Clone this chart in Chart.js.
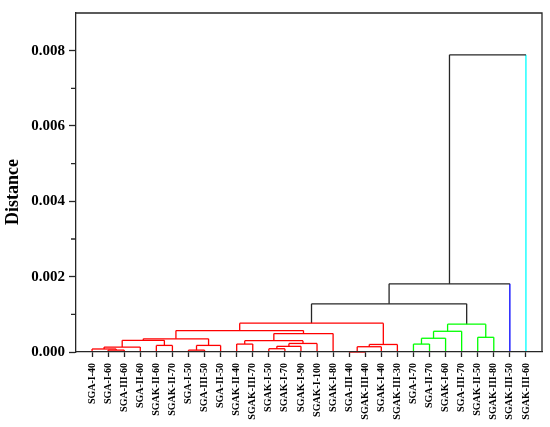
<!DOCTYPE html>
<html>
<head>
<meta charset="utf-8">
<script src="https://cdn.jsdelivr.net/npm/chart.js@4.4.1/dist/chart.umd.min.js"></script>
<style>
  html, body { margin: 0; padding: 0; background: #fff; }
  #wrap { width: 550px; height: 427px; }
</style>
</head>
<body>
<div id="wrap"><canvas id="chart" width="550" height="427"></canvas></div>
<script>
// leaves in dendrogram order
const leafLabels = [
  'SGA-I-40', 'SGA-I-60', 'SGA-III-60', 'SGA-II-60', 'SGAK-II-60', 'SGAK-II-70',
  'SGA-I-50', 'SGA-III-50', 'SGA-II-50', 'SGAK-II-40', 'SGAK-III-70', 'SGAK-I-50',
  'SGAK-I-70', 'SGAK-I-90', 'SGAK-I-100', 'SGAK-I-80', 'SGA-III-40', 'SGAK-III-40',
  'SGAK-I-40', 'SGAK-III-30', 'SGA-I-70', 'SGA-II-70', 'SGAK-I-60', 'SGA-III-70',
  'SGAK-II-50', 'SGAK-III-80', 'SGAK-III-50', 'SGAK-III-60',
];

// linkage: merge k joins mergeLeft[k] and mergeRight[k] into node 28 + k
const mergeLeft = [16, 6, 1, 0, 11, 28, 31, 32, 29, 4, 9, 20, 33, 35, 38, 34, 43, 39, 24, 42, 45, 44, 48, 49, 51, 52, 53];
const mergeRight = [17, 7, 2, 30, 12, 18, 3, 13, 8, 5, 10, 21, 19, 14, 41, 37, 36, 22, 25, 15, 23, 47, 46, 40, 50, 26, 27];
const mergeHeight = [
  0, 0.00005, 0.00005, 0.00008, 0.000087, 0.00014, 0.00013, 0.00015, 0.000175,
  0.000175, 0.00021, 0.00021, 0.0002, 0.000227, 0.0003, 0.00031, 0.00035, 0.000365,
  0.00039, 0.00049, 0.00055, 0.00057, 0.00074, 0.000765, 0.00128, 0.00181, 0.00789,
];

const yMajorTicks = [0, 0.002, 0.004, 0.006, 0.008];
const yMinorTicks = [0.001, 0.003, 0.005, 0.007];
const colorThreshold = 0.001;

const clusterPalette = ['#ff0000', '#00ff00', '#0000ff', '#00ffff'];
const linkColor = '#262626';
const axisColor = '#262626';
const serif = "'Liberation Serif', 'Times New Roman', serif";

const nLeaves = leafLabels.length;
const nodeX = leafLabels.map((_, i) => i);
const nodeH = leafLabels.map(() => 0);
mergeLeft.forEach((a, k) => {
  nodeX.push((nodeX[a] + nodeX[mergeRight[k]]) / 2);
  nodeH.push(mergeHeight[k]);
});

// colour clusters below the threshold, left to right
const nodeColor = [];
let nextColor = 0;
function paint(id, c) {
  nodeColor[id] = c;
  if (id >= nLeaves) {
    paint(mergeLeft[id - nLeaves], c);
    paint(mergeRight[id - nLeaves], c);
  }
}
function assign(id) {
  if (nodeH[id] < colorThreshold) {
    paint(id, clusterPalette[nextColor++ % clusterPalette.length]);
    return;
  }
  nodeColor[id] = linkColor;
  assign(mergeLeft[id - nLeaves]);
  assign(mergeRight[id - nLeaves]);
}
assign(nodeX.length - 1);

const segments = [];
mergeLeft.forEach((a, k) => {
  const b = mergeRight[k];
  const h = mergeHeight[k];
  const c = nodeColor[nLeaves + k];
  const legColor = child => (child < nLeaves ? nodeColor[child] : c);
  segments.push({ pts: [[nodeX[a], nodeH[a]], [nodeX[a], h]], color: legColor(a) });
  segments.push({ pts: [[nodeX[a], h], [nodeX[b], h]], color: c });
  segments.push({ pts: [[nodeX[b], h], [nodeX[b], nodeH[b]]], color: legColor(b) });
});

const datasets = segments.map(s => ({
  data: s.pts.map(([x, y]) => ({ x, y })),
  borderColor: s.color,
  borderWidth: 1.3,
  pointRadius: 0,
  showLine: true,
  fill: false,
  clip: false,
}));

// frame on top/right, minor y ticks and the rotated axis title
const framePlugin = {
  id: 'frame',
  afterDraw(chart) {
    const { ctx, chartArea: a, scales } = chart;
    ctx.save();
    ctx.strokeStyle = axisColor;
    ctx.lineWidth = 1.3;
    ctx.beginPath();
    ctx.moveTo(a.left, a.top);
    ctx.lineTo(a.right, a.top);
    ctx.lineTo(a.right, a.bottom);
    yMinorTicks.forEach(v => {
      const py = scales.y.getPixelForValue(v);
      ctx.moveTo(a.left - 5, py);
      ctx.lineTo(a.left, py);
    });
    ctx.stroke();

    ctx.translate(13, 192);
    ctx.rotate(-Math.PI / 2);
    ctx.fillStyle = '#000';
    ctx.font = `bold 18px ${serif}`;
    ctx.textAlign = 'center';
    ctx.textBaseline = 'middle';
    ctx.fillText('Distance', 0, 0);
    ctx.restore();
  },
};

new Chart(document.getElementById('chart'), {
  type: 'scatter',
  data: { datasets },
  options: {
    responsive: false,
    animation: false,
    layout: { padding: { top: 7, right: 8, left: 0, bottom: 0 } },
    plugins: { legend: { display: false }, tooltip: { enabled: false } },
    scales: {
      x: {
        type: 'linear',
        min: -1,
        max: nLeaves,
        afterBuildTicks: s => { s.ticks = leafLabels.map((_, i) => ({ value: i })); },
        afterFit: s => { s.height = 75; },
        ticks: {
          autoSkip: false,
          minRotation: 90,
          maxRotation: 90,
          padding: 6,
          color: '#000',
          font: { family: serif, size: 10, weight: 'bold' },
          callback: v => leafLabels[v],
        },
        grid: { drawOnChartArea: false, tickLength: 5, color: axisColor, tickWidth: 1.3 },
        border: { color: axisColor, width: 1.3, z: 1 },
      },
      y: {
        min: 0,
        max: 0.009,
        afterBuildTicks: s => { s.ticks = yMajorTicks.map(v => ({ value: v })); },
        afterFit: s => { s.width = 76; },
        ticks: {
          padding: 4,
          color: '#000',
          font: { family: serif, size: 15, weight: 'bold' },
          callback: v => v.toFixed(3),
        },
        grid: { drawOnChartArea: false, tickLength: 7, color: axisColor, tickWidth: 1.3 },
        border: { color: axisColor, width: 1.3, z: 1 },
      },
    },
  },
  plugins: [framePlugin],
});
</script>
</body>
</html>
